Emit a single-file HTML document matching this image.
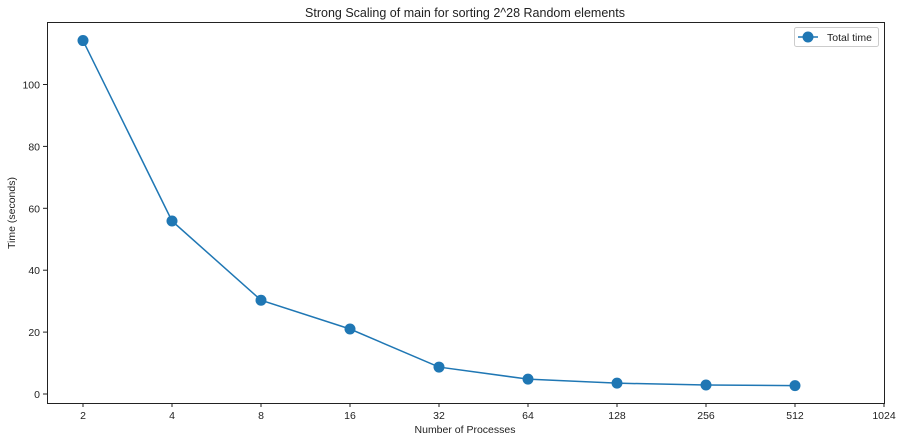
<!DOCTYPE html>
<html><head><meta charset="utf-8"><style>
body{margin:0;background:#fff;font-family:"Liberation Sans","DejaVu Sans",sans-serif}
svg text{font-family:"Liberation Sans","DejaVu Sans",sans-serif;fill:#222}
</style></head><body>
<svg id="c" width="903" height="441" xmlns="http://www.w3.org/2000/svg">
<rect width="903" height="441" fill="#fff"/>
<text x="465" y="17" font-size="12.5" text-anchor="middle">Strong Scaling of main for sorting 2^28 Random elements</text>
<text x="465" y="433" font-size="10.5" text-anchor="middle">Number of Processes</text>
<text transform="translate(15,213) rotate(-90)" font-size="10.5" text-anchor="middle">Time (seconds)</text>
<g id="g"></g>
<rect x="47.5" y="22.5" width="837" height="381" fill="none" stroke="#222" stroke-width="1"/>
<g>
<rect x="794.5" y="27.5" width="84" height="19" fill="#fff" stroke="#ccc" rx="2"/>
<line x1="798" y1="37" x2="818" y2="37" stroke="#1f77b4" stroke-width="1.5"/>
<circle cx="808" cy="37" r="5.5" fill="#1f77b4"/>
<text x="827" y="41" font-size="10.5">Total time</text>
</g>
</svg>
<script>
const procs=[2,4,8,16,32,64,128,256,512];
const times=[114.2,55.9,30.3,21.0,8.7,4.8,3.5,2.9,2.7];
const xTicks=[2,4,8,16,32,64,128,256,512,1024];
const yTicks=[0,20,40,60,80,100];
const NS="http://www.w3.org/2000/svg";
const g=document.getElementById('g');
function xs(v){return 83+(Math.log2(v)-1)*89;}
function ys(v){return 394-v*3.095;}
function mk(t,a){const e=document.createElementNS(NS,t);for(const k in a)e.setAttribute(k,a[k]);g.appendChild(e);return e;}
xTicks.forEach(v=>{
 const l=mk('line',{x1:xs(v),x2:xs(v),y1:403,y2:407,stroke:'#222'});
 
 
 const t=mk('text',{x:xs(v),y:419,'font-size':10.5,'text-anchor':'middle'});t.textContent=v;
 
 
});
yTicks.forEach(v=>{
 const l=mk('line',{x1:43,x2:47.5,y1:ys(v),y2:ys(v),stroke:'#222'});
 
 
 const t=mk('text',{x:40,y:ys(v)+4,'font-size':10.5,'text-anchor':'end'});t.textContent=v;
 
 
});
const pl=mk('polyline',{points:procs.map((p,i)=>xs(p)+','+ys(times[i])).join(' '),fill:'none',stroke:'#1f77b4','stroke-width':1.5});


procs.forEach((p,i)=>{
 const c=mk('circle',{cx:xs(p),cy:ys(times[i]),r:5.5,fill:'#1f77b4'});
 
 
});
</script>
</body></html>
